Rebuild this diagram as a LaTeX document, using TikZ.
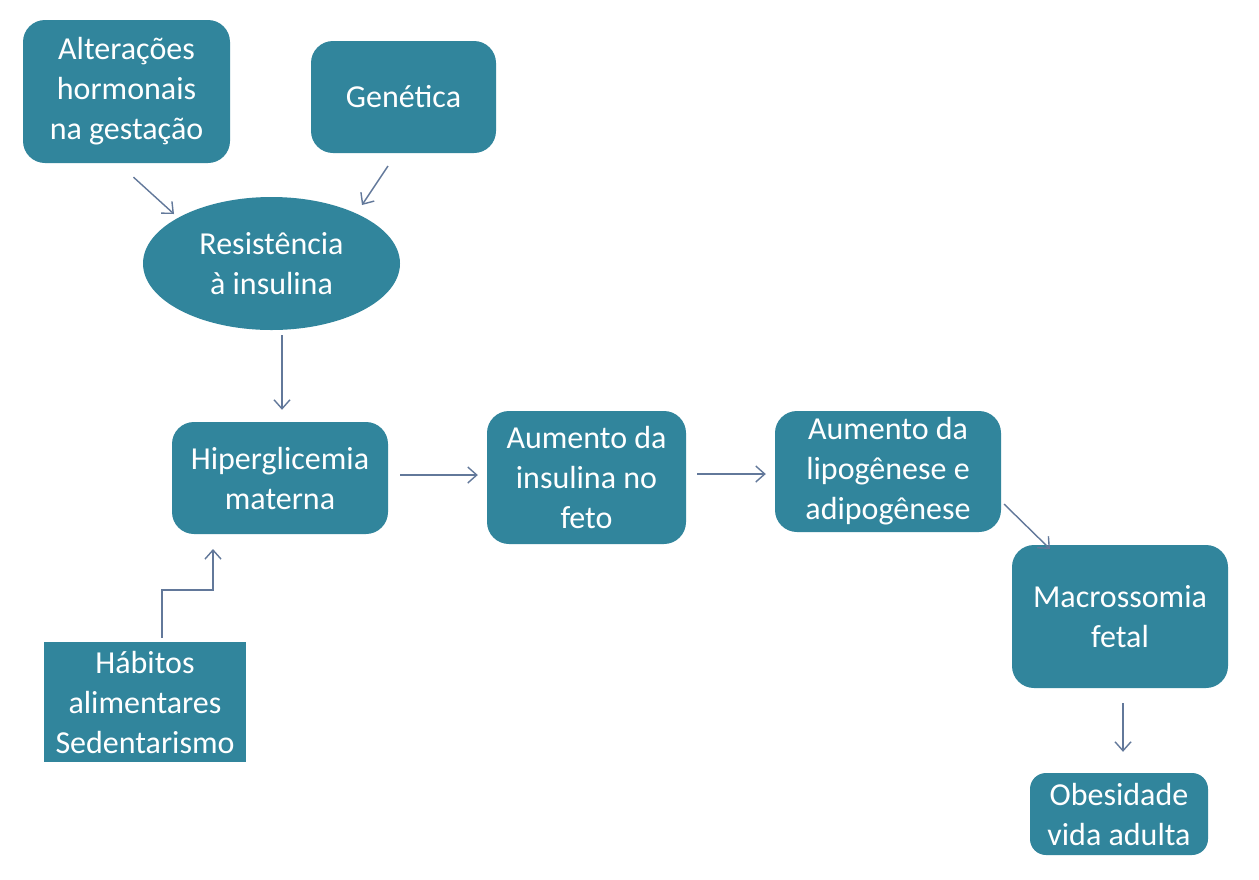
\documentclass[tikz,border=0pt]{standalone}
\usepackage{fontspec}
\setmainfont{Carlito}
\usetikzlibrary{shapes.geometric,arrows.meta,calc}
\definecolor{boxfill}{HTML}{31859C}
\definecolor{arrcol}{HTML}{62789A}
\tikzset{
  box/.style={fill=boxfill, rounded corners=22pt, text=white, align=center,
    font=\fontsize{32}{40}\selectfont, inner sep=0pt},
  sqbox/.style={fill=boxfill, text=white, align=center,
    font=\fontsize{32}{40}\selectfont, inner sep=0pt},
  ell/.style={ellipse, fill=boxfill, text=white, align=center,
    font=\fontsize{32}{40}\selectfont, inner sep=0pt},
  arr/.style={draw=arrcol, line width=1.4pt, -{Straight Barb[length=9pt,width=16pt,line width=1.4pt]}},
}
\begin{document}
\begin{tikzpicture}[x=1pt,y=-1pt]
\useasboundingbox (0,0) rectangle (1259,879);
\fill[white] (0,0) rectangle (1259,879);
\node[box, minimum width=207pt, minimum height=143pt] (alt) at (126.5,91.5) {Alterações\\hormonais\\na gestação};
\node[box, minimum width=185pt, minimum height=112pt] (gen) at (403.5,97) {Genética};
\node[ell, minimum width=257pt, minimum height=133pt] (res) at (271.5,263.5) {Resistência\\à insulina};
\node[box, minimum width=216pt, minimum height=112pt] (hip) at (280,478) {Hiperglicemia\\materna};
\node[box, minimum width=199pt, minimum height=133pt] (ins) at (586.5,477.5) {Aumento da\\insulina no\\feto};
\node[box, minimum width=226pt, minimum height=121pt] (lip) at (888,471.5) {Aumento da\\lipogênese e\\adipogênese};
\node[box, minimum width=216pt, minimum height=143pt] (mac) at (1120,616.5) {Macrossomia\\fetal};
\node[box, rounded corners=16pt, minimum width=178pt, minimum height=82pt] (obe) at (1119,814) {Obesidade\\vida adulta};
\node[sqbox, minimum width=202pt, minimum height=120pt] (hab) at (145,702) {Hábitos\\alimentares\\Sedentarismo};

\coordinate (a1s) at ($(alt.south)+(7,14)$);
\coordinate (a1e) at (174,214);
\draw[arr] (a1s) -- (a1e);
\coordinate (g1s) at (388,166);
\coordinate (g1e) at (362,205);
\draw[arr] (g1s) -- (g1e);
\coordinate (r1s) at ($(res.south -| hip.north)+(2,5)$);
\coordinate (r1e) at ($(hip.north)+(2,-12)$);
\draw[arr] (r1s) -- (r1e);
\coordinate (h1s) at ($(hab.north)+(17,-4)$);
\coordinate (h1e) at (213,549);
\draw[arr] (h1s) -- (162,590) -- (213,590) -- (h1e);
\draw[arr] ($(hip.east)+(12,-3)$) -- ($(ins.west)+(-9,-2.5)$);
\draw[arr] ($(ins.east)+(11,-3.5)$) -- ($(lip.west)+(-9,2.5)$);
\coordinate (l1s) at (1004,504);
\coordinate (l1e) at (1050,549);
\draw[arr] (l1s) -- (l1e);
\draw[arr] ($(mac.south)+(3,15)$) -- ($(obe.north)+(4,-21)$);
\end{tikzpicture}
\end{document}
